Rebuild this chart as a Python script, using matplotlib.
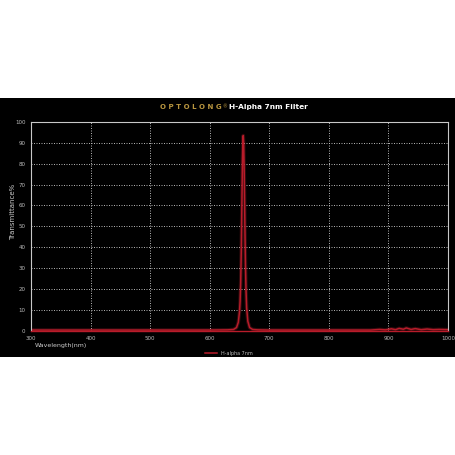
import matplotlib
matplotlib.use("Agg")
import matplotlib.pyplot as plt

# transmission curve
wavelength = [300, 400, 500, 600, 630, 640, 645, 648, 650, 651, 652, 653, 654, 655,
              655.8, 656.3, 657, 658, 659, 660, 661, 662, 664, 667, 672, 680, 700,
              800, 870, 885, 895, 905, 912, 918, 925, 930, 938, 945, 955, 965, 975,
              985, 1000]
transmittance = [0.3, 0.3, 0.3, 0.3, 0.4, 0.6, 1.5, 4, 9, 14, 23, 38, 60, 82,
                 92, 93.5, 90, 75, 52, 32, 19, 11, 4.5, 1.5, 0.6, 0.4, 0.3,
                 0.3, 0.3, 0.6, 0.4, 0.9, 0.5, 1.1, 0.7, 1.3, 0.6, 1.0, 0.5, 0.8, 0.5,
                 0.6, 0.5]

x_ticks = [300, 400, 500, 600, 700, 800, 900, 1000]
y_ticks = [0, 10, 20, 30, 40, 50, 60, 70, 80, 90, 100]

fig = plt.figure(figsize=(4.55, 4.55), dpi=100)
fig.patch.set_facecolor("white")

# black band behind the chart
bg = fig.add_axes([0, 0.2154, 1, 0.5692], zorder=-1)
bg.set_facecolor("black")
bg.set_xticks([])
bg.set_yticks([])
for s in bg.spines.values():
    s.set_visible(False)

ax = fig.add_axes([0.0681, 0.2732, 0.9165, 0.4587])
ax.set_facecolor("black")

# soft glow under the line, then the line itself
ax.plot(wavelength, transmittance, color="#ff3344", linewidth=2.6, alpha=0.2)
ax.plot(wavelength, transmittance, color="#b81c2a", linewidth=1.1, label="H-alpha 7nm")

ax.set_xlim(300, 1000)
ax.set_ylim(0, 100)
ax.set_xticks(x_ticks)
ax.set_yticks(y_ticks)
ax.grid(True, color="#cfcfcf", linestyle=(0, (1.2, 1.8)), linewidth=0.6)
ax.tick_params(colors="#bbbbbb", labelsize=4, length=0, pad=4)

for side in ["left", "right", "top"]:
    ax.spines[side].set_color("#c8c8c8")
    ax.spines[side].set_linewidth(0.8)
ax.spines["bottom"].set_color("#b81c2a")
ax.spines["bottom"].set_linewidth(1.0)

fig.text(0.077, 0.240, "Wavelength(nm)", color="#cccccc", fontsize=4.5, ha="left", va="center")
fig.text(0.028, 0.535, "Transmittance%", color="#cccccc", fontsize=5, ha="center",
         va="center", rotation=90)

# title: brand in gold, rest in white bold
fig.text(0.352, 0.765, "O P T O L O N G", color="#b8953f", fontsize=5,
         ha="left", va="center", fontweight="bold")
fig.text(0.488, 0.765, "\u00ae", color="#b8953f", fontsize=3.5, ha="left", va="center")
fig.text(0.503, 0.765, "H-Alpha 7nm Filter", color="white", fontsize=5.3,
         ha="left", va="center", fontweight="bold")

leg = ax.legend(loc="upper center", bbox_to_anchor=(0.475, -0.075), frameon=False,
                fontsize=3.5, handlelength=2.5, labelcolor="#bbbbbb")

fig.savefig("out.png", dpi=100, facecolor="white")
